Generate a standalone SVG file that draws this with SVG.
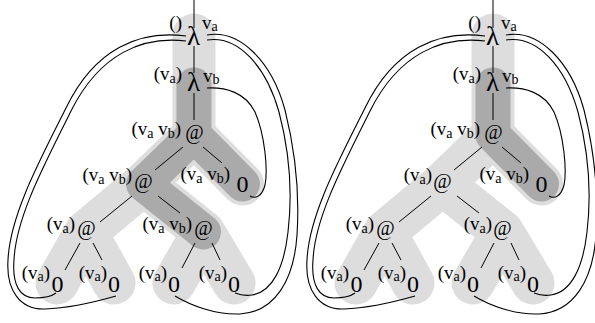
<svg xmlns="http://www.w3.org/2000/svg" width="595" height="323" viewBox="0 0 595 323">
<style>
.bl{fill:none;stroke:#dddddd;stroke-width:43;stroke-linecap:round;stroke-linejoin:round}
.bd{fill:none;stroke:#aaaaaa;stroke-width:35;stroke-linecap:round;stroke-linejoin:round}
.e{fill:none;stroke:#000;stroke-width:1}
.lp{fill:none;stroke:#000;stroke-width:1.1}
text{font-family:"Liberation Serif","DejaVu Serif",serif;fill:#000}
.lam{font-size:27px;text-anchor:middle}
.app{font-size:20px;text-anchor:middle}
.zero{font-size:24px;text-anchor:middle}
.lb{font-size:19px;text-anchor:end}
.rt{font-size:19px;text-anchor:start}
.s{font-size:14px}
</style>
<defs>
<path id="lightband" d="M194,35 L194,135 L143.5,184 L86,232 L57,283 M143.5,184 L203.5,232 L174,283 M86,232 L114,283 M203.5,232 L234,283 M194,135 L242.5,184"/>
</defs>

<g id="highlights">
<use href="#lightband" class="bl"/>
<path class="bd" d="M194,85 L194,135 L143.5,184 L203.5,232 M194,135 L242.5,184"/>
<use href="#lightband" class="bl" transform="translate(299,0)"/>
<path class="bd" d="M493,85 L493,135 L541.5,184"/>
</g>

<g id="connectors">
<g id="connectors-left">
<path class="e" d="M194,0 V28 M194,46 V73 M194,93 V120 M183,147 L155,170 M203,147 L222,163 M132,196 L100,222 M158,196 L180,213 M80,243 L65,270 M93,243 L102,260 M195,243 L182,268 M212,243 L220,260"/>
<path class="lp" d="M186,36 C140,30 95,48 66,108 C40,160 10,215 8,260 C6,290 20,310 45,309 C70,308 95,302 116,296"/>
<path class="lp" d="M186,41 C143,36 100,53 71,111 C46,162 16,216 14,260 C12,285 20,298 35,298 C45,298 52,296 56,293"/>
<path class="lp" d="M207,35 C240,29 272,62 285,110 C295,150 300,190 297,235 C294,280 275,312 240,314 C215,315 190,305 175,296"/>
<path class="lp" d="M207,40 C238,35 266,66 279,112 C289,150 293,190 288,232 C284,268 272,292 252,295 C245,296 240,295 235,293"/>
<path class="lp" d="M207,88 C225,87 245,92 255,112 C265,135 268,170 265,185 C262,197 255,199 250,196"/>
</g>
<g id="connectors-right" transform="translate(299,0)">
<path class="e" d="M194,0 V28 M194,46 V73 M194,93 V120 M183,147 L155,170 M203,147 L222,163 M132,196 L100,222 M158,196 L180,213 M80,243 L65,270 M93,243 L102,260 M195,243 L182,268 M212,243 L220,260"/>
<path class="lp" d="M186,36 C140,30 95,48 66,108 C40,160 10,215 8,260 C6,290 20,310 45,309 C70,308 95,302 116,296"/>
<path class="lp" d="M186,41 C143,36 100,53 71,111 C46,162 16,216 14,260 C12,285 20,298 35,298 C45,298 52,296 56,293"/>
<path class="lp" d="M207,35 C240,29 272,62 285,110 C295,150 300,190 297,235 C294,280 275,312 240,314 C215,315 190,305 175,296"/>
<path class="lp" d="M207,40 C238,35 266,66 279,112 C289,150 293,190 288,232 C284,268 272,292 252,295 C245,296 240,295 235,293"/>
<path class="lp" d="M207,88 C225,87 245,92 255,112 C265,135 268,170 265,185 C262,197 255,199 250,196"/>
</g>
</g>

<g id="tree-left">
<g id="L-lam1"><text class="lb" x="182" y="28.5">()</text><text class="lam" x="193.5" y="45">λ</text><text class="rt" x="202" y="28.5">v<tspan class="s" dy="2.5">a</tspan></text></g>
<g id="L-lam2"><text class="lb" x="182" y="80">(v<tspan class="s" dy="2.5">a</tspan><tspan dy="-2.5">)</tspan></text><text class="lam" x="193.5" y="91">λ</text><text class="rt" x="203" y="81.5">v<tspan class="s" dy="2.5">b</tspan></text></g>
<g id="L-app1"><text class="lb" x="181" y="135">(v<tspan class="s" dy="2.5">a</tspan><tspan dy="-2.5"> v</tspan><tspan class="s" dy="2.5">b</tspan><tspan dy="-2.5">)</tspan></text><text class="app" x="194.5" y="139">@</text></g>
<g id="L-app2"><text class="lb" x="132" y="181">(v<tspan class="s" dy="2.5">a</tspan><tspan dy="-2.5"> v</tspan><tspan class="s" dy="2.5">b</tspan><tspan dy="-2.5">)</tspan></text><text class="app" x="143.5" y="188">@</text></g>
<g id="L-zero1"><text class="lb" x="230" y="180">(v<tspan class="s" dy="2.5">a</tspan><tspan dy="-2.5"> v</tspan><tspan class="s" dy="2.5">b</tspan><tspan dy="-2.5">)</tspan></text><text class="zero" x="242.5" y="192">0</text></g>
<g id="L-app3"><text class="lb" x="75" y="230">(v<tspan class="s" dy="2.5">a</tspan><tspan dy="-2.5">)</tspan></text><text class="app" x="86.5" y="235">@</text></g>
<g id="L-app4"><text class="lb" x="192" y="230">(v<tspan class="s" dy="2.5">a</tspan><tspan dy="-2.5"> v</tspan><tspan class="s" dy="2.5">b</tspan><tspan dy="-2.5">)</tspan></text><text class="app" x="203.5" y="235">@</text></g>
<g id="L-leaf1"><text class="lb" x="50" y="278.5">(v<tspan class="s" dy="2.5">a</tspan><tspan dy="-2.5">)</tspan></text><text class="zero" x="57.5" y="292">0</text></g>
<g id="L-leaf2"><text class="lb" x="107" y="278.5">(v<tspan class="s" dy="2.5">a</tspan><tspan dy="-2.5">)</tspan></text><text class="zero" x="114" y="292">0</text></g>
<g id="L-leaf3"><text class="lb" x="167" y="278.5">(v<tspan class="s" dy="2.5">a</tspan><tspan dy="-2.5">)</tspan></text><text class="zero" x="174" y="292">0</text></g>
<g id="L-leaf4"><text class="lb" x="227" y="278.5">(v<tspan class="s" dy="2.5">a</tspan><tspan dy="-2.5">)</tspan></text><text class="zero" x="234" y="292">0</text></g>
</g>

<g id="tree-right" transform="translate(299,0)">
<g id="R-lam1"><text class="lb" x="182" y="28.5">()</text><text class="lam" x="193.5" y="45">λ</text><text class="rt" x="202" y="28.5">v<tspan class="s" dy="2.5">a</tspan></text></g>
<g id="R-lam2"><text class="lb" x="182" y="80">(v<tspan class="s" dy="2.5">a</tspan><tspan dy="-2.5">)</tspan></text><text class="lam" x="193.5" y="91">λ</text><text class="rt" x="203" y="81.5">v<tspan class="s" dy="2.5">b</tspan></text></g>
<g id="R-app1"><text class="lb" x="181" y="135">(v<tspan class="s" dy="2.5">a</tspan><tspan dy="-2.5"> v</tspan><tspan class="s" dy="2.5">b</tspan><tspan dy="-2.5">)</tspan></text><text class="app" x="194.5" y="139">@</text></g>
<g id="R-app2"><text class="lb" x="133" y="181">(v<tspan class="s" dy="2.5">a</tspan><tspan dy="-2.5">)</tspan></text><text class="app" x="143.5" y="188">@</text></g>
<g id="R-zero1"><text class="lb" x="230" y="180">(v<tspan class="s" dy="2.5">a</tspan><tspan dy="-2.5"> v</tspan><tspan class="s" dy="2.5">b</tspan><tspan dy="-2.5">)</tspan></text><text class="zero" x="242.5" y="192">0</text></g>
<g id="R-app3"><text class="lb" x="75" y="230">(v<tspan class="s" dy="2.5">a</tspan><tspan dy="-2.5">)</tspan></text><text class="app" x="86.5" y="235">@</text></g>
<g id="R-app4"><text class="lb" x="193" y="230">(v<tspan class="s" dy="2.5">a</tspan><tspan dy="-2.5">)</tspan></text><text class="app" x="203.5" y="235">@</text></g>
<g id="R-leaf1"><text class="lb" x="50" y="278.5">(v<tspan class="s" dy="2.5">a</tspan><tspan dy="-2.5">)</tspan></text><text class="zero" x="57.5" y="292">0</text></g>
<g id="R-leaf2"><text class="lb" x="107" y="278.5">(v<tspan class="s" dy="2.5">a</tspan><tspan dy="-2.5">)</tspan></text><text class="zero" x="114" y="292">0</text></g>
<g id="R-leaf3"><text class="lb" x="167" y="278.5">(v<tspan class="s" dy="2.5">a</tspan><tspan dy="-2.5">)</tspan></text><text class="zero" x="174" y="292">0</text></g>
<g id="R-leaf4"><text class="lb" x="227" y="278.5">(v<tspan class="s" dy="2.5">a</tspan><tspan dy="-2.5">)</tspan></text><text class="zero" x="234" y="292">0</text></g>
</g>
</svg>
